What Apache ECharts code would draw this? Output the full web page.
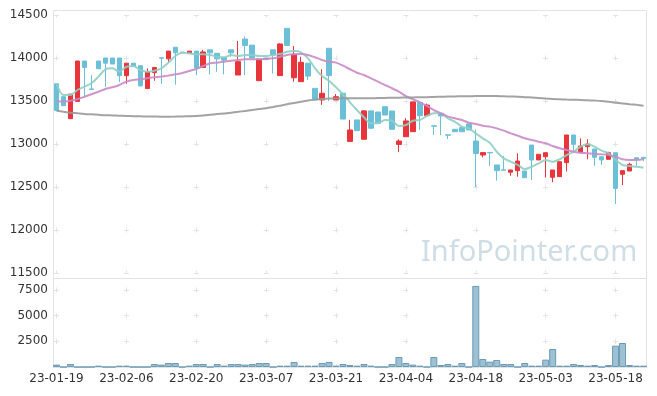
<!DOCTYPE html>
<html><head><meta charset="utf-8">
<script src="https://cdn.jsdelivr.net/npm/echarts@6/dist/echarts.min.js"></script>
<style>html,body{margin:0;padding:0;background:#fff}#c{width:657px;height:396px}</style>
</head><body><div id="c"></div>
<script>
const dates = ['23-01-19','23-01-20','23-01-25','23-01-26','23-01-27','23-01-30','23-01-31','23-02-01','23-02-02','23-02-03','23-02-06','23-02-07','23-02-08','23-02-09','23-02-10','23-02-13','23-02-14','23-02-15','23-02-16','23-02-17','23-02-20','23-02-21','23-02-22','23-02-23','23-02-24','23-02-27','23-02-28','23-03-02','23-03-03','23-03-06','23-03-07','23-03-08','23-03-09','23-03-10','23-03-13','23-03-14','23-03-15','23-03-16','23-03-17','23-03-20','23-03-21','23-03-22','23-03-23','23-03-24','23-03-27','23-03-28','23-03-29','23-03-30','23-03-31','23-04-03','23-04-04','23-04-05','23-04-06','23-04-07','23-04-10','23-04-11','23-04-12','23-04-13','23-04-14','23-04-17','23-04-18','23-04-19','23-04-20','23-04-21','23-04-24','23-04-25','23-04-26','23-04-27','23-04-28','23-05-02','23-05-03','23-05-04','23-05-08','23-05-09','23-05-10','23-05-11','23-05-12','23-05-15','23-05-16','23-05-17','23-05-18','23-05-19','23-05-22','23-05-23','23-05-24'];
const openP  = [13700,13550,13295,13495,13965,13640,13965,14000,14000,14000,13795,13940,13910,13645,13830,14003,13990,14125,14068,14055,14080,13890,14095,14055,14005,14095,13802,14220,14150,13736,14000,14095,13795,14345,13770,13725,13940,13647,13512,14113,13512,13590,13030,13280,13055,13385,13372,13434,13384,12995,13085,13143,13485,13330,13212,13357,13107,13171,13190,13233,13035,12872,12902,12756,12700,12672,12690,12686,12988,12814,12852,12613,12620,12783,13105,12900,12970,12942,12852,12822,12899,12648,12686,12841,12845];
const closeP = [13390,13445,13580,13965,13890,13635,13875,13940,13930,13795,13940,13900,13675,13840,13890,13998,14080,14060,14063,14080,13885,14070,14060,13990,13975,14060,13957,14145,14000,13988,13985,14035,14163,14145,14043,13950,13790,13512,13590,13795,13550,13290,13163,13155,13385,13183,13240,13337,13171,13035,13268,13490,13329,13453,13207,13326,13103,13143,13143,13163,12890,12900,12897,12690,12695,12698,12802,12608,12814,12880,12899,12698,12794,13105,12996,12977,13000,12845,12814,12899,12484,12690,12764,12822,12830];
const lowP   = [13390,13445,13290,13495,13560,13635,13875,13665,13930,13720,13700,13900,13675,13645,13735,13700,13950,13690,14063,14055,13800,13890,13810,13840,13810,14015,13802,13800,14000,13736,13985,13820,13795,14145,13725,13725,13745,13512,13455,13500,13512,13290,13030,13155,13055,13183,13240,13337,13171,12905,13085,13143,13163,13330,13105,13105,13058,13143,13143,13163,12500,12845,12745,12575,12695,12630,12620,12608,12581,12814,12610,12555,12620,12680,12905,12900,12822,12745,12756,12822,12302,12523,12686,12745,12800];
const highP  = [13700,13550,13580,13965,13965,13800,13965,14000,14000,14000,13940,13940,13910,13880,13890,14003,14080,14125,14068,14080,14080,14095,14095,14055,14005,14095,14198,14250,14150,13988,14000,14095,14170,14345,14140,14015,13940,13647,13870,14113,13580,13590,13280,13280,13395,13385,13372,13434,13384,13055,13300,13490,13485,13470,13212,13357,13107,13171,13190,13233,13170,12900,12902,12756,12860,12698,12892,12686,12988,12880,12899,12698,12794,13105,13105,13066,13055,12942,12852,12910,12899,12690,12783,12841,12845];
const volume = [230,0,290,0,0,0,130,0,0,130,130,0,0,0,290,230,390,390,0,130,290,290,0,290,130,290,290,230,290,390,390,0,130,130,490,130,130,130,390,490,130,290,195,130,290,130,0,0,290,975,390,230,130,0,975,195,290,130,390,0,7900,780,520,680,292,292,0,390,130,130,714,1753,130,130,292,195,130,195,0,195,2077,2337,195,130,130];
const ma5   = [13700,13570,13570,13628,13667,13706,13783,13868,13880,13841,13899,13907,13860,13841,13852,13880,13945,14023,14062,14054,14043,14043,14035,14015,14008,14035,14023,14035,14035,14023,14023,14035,14047,14073,14081,14066,13996,13880,13791,13736,13659,13578,13485,13395,13310,13240,13240,13279,13271,13209,13221,13271,13279,13326,13357,13357,13299,13260,13202,13182,13124,13066,13015,12910,12833,12794,12756,12709,12736,12775,12814,12794,12822,12872,12910,12969,12996,12969,12922,12892,12814,12756,12744,12736,12725];
const ma20  = [13500,13492,13504,13520,13550,13578,13608,13640,13659,13686,13725,13744,13752,13765,13775,13785,13795,13810,13825,13849,13872,13907,13938,13946,13957,13969,13977,13985,13985,13985,13988,13996,14015,14035,14043,14047,14035,14008,13977,13957,13946,13911,13869,13829,13802,13764,13725,13686,13648,13608,13558,13520,13485,13442,13395,13357,13318,13299,13279,13248,13233,13213,13202,13182,13155,13124,13097,13066,13047,13027,13008,12977,12950,12930,12910,12899,12892,12884,12880,12872,12852,12822,12814,12814,12822];
const ma120 = [13387,13375,13364,13357,13350,13345,13340,13335,13332,13329,13326,13324,13322,13320,13319,13318,13318,13319,13321,13323,13326,13332,13340,13348,13356,13364,13374,13385,13396,13406,13415,13430,13446,13462,13478,13492,13505,13516,13523,13528,13530,13531,13531,13531,13531,13532,13534,13536,13538,13539,13540,13542,13543,13545,13547,13549,13551,13553,13555,13556,13557,13558,13558,13557,13555,13552,13550,13545,13540,13534,13528,13523,13520,13517,13515,13513,13510,13505,13499,13490,13481,13472,13463,13455,13446];
const priceTicks = [11500, 14500, 500];   // min, max, step
const volumeTicks = [0, 8670, 2500];      // min, max, step

const candles = dates.map((d, i) => [openP[i], closeP[i], lowP[i], highP[i]]);

const RED = '#e8343a', BLUE = '#6bc0d8';
const GRIDC = '#e3e3e3';
const plain = v => String(v);
const labelFont = {color: '#333', fontSize: 12, fontFamily: 'DejaVu Sans'};
const catStep = 594 / dates.length * 10;

const chart = echarts.init(document.getElementById('c'), null, {renderer: 'canvas'});
chart.setOption({
  animation: false,
  backgroundColor: '#fff',
  grid: [
    {left: 53, right: 10, top: 15, height: 258},
    {left: 53, right: 10, top: 278, height: 89}
  ],
  xAxis: [
    {type: 'category', gridIndex: 0, data: dates, boundaryGap: true,
     axisLine: {show: false}, axisTick: {show: false}, axisLabel: {show: false},
     splitLine: {show: true, interval: 9, alignWithLabel: true,
       lineStyle: {color: GRIDC, width: 1, type: [5, 38], dashOffset: 2.5}}},
    {type: 'category', gridIndex: 1, data: dates, boundaryGap: true,
     axisLine: {show: true, lineStyle: {color: GRIDC}}, axisTick: {show: false},
     axisLabel: Object.assign({interval: 9, margin: 6}, labelFont),
     splitLine: {show: true, interval: 9, alignWithLabel: true,
       lineStyle: {color: GRIDC, width: 1, type: [5, 20.66], dashOffset: 16.16}}}
  ],
  yAxis: [
    {type: 'value', gridIndex: 0, min: priceTicks[0], max: priceTicks[1], interval: priceTicks[2],
     axisLine: {show: true, lineStyle: {color: GRIDC}}, axisTick: {show: false},
     axisLabel: Object.assign({margin: 5, formatter: plain}, labelFont),
     splitLine: {show: true, lineStyle: {color: GRIDC, width: 1, type: [5, catStep - 5], dashOffset: catStep - 1}}},
    {type: 'value', gridIndex: 1, min: volumeTicks[0], max: volumeTicks[1], interval: volumeTicks[2],
     axisLine: {show: true, lineStyle: {color: GRIDC}}, axisTick: {show: false},
     axisLabel: Object.assign({margin: 5, showMinLabel: false, showMaxLabel: false, formatter: plain}, labelFont),
     splitLine: {show: true, lineStyle: {color: GRIDC, width: 1, type: [5, catStep - 5], dashOffset: catStep - 1}}}
  ],
  graphic: [
    {type: 'rect', z: -1, silent: true, shape: {x: 53.5, y: 10.5, width: 593, height: 357},
     style: {fill: 'none', stroke: GRIDC, lineWidth: 1}},
    {type: 'line', z: -1, silent: true, shape: {x1: 53.5, y1: 278.5, x2: 646.5, y2: 278.5},
     style: {stroke: GRIDC, lineWidth: 1}},
    {type: 'text', z: 0, silent: true, left: 421, top: 238,
     style: {text: 'InfoPointer.com', fill: '#cfdde7', fontSize: 29, fontFamily: 'Noto Sans'}}
  ],
  series: [
    {type: 'candlestick', xAxisIndex: 0, yAxisIndex: 0, data: candles, barWidth: 5,
     itemStyle: {color: RED, color0: BLUE, borderColor: RED, borderColor0: BLUE, borderWidth: 1}},
    {type: 'line', xAxisIndex: 0, yAxisIndex: 0, data: ma5, showSymbol: false, smooth: 0.3,
     lineStyle: {color: '#8fcfc3', width: 2, opacity: 0.9}},
    {type: 'line', xAxisIndex: 0, yAxisIndex: 0, data: ma20, showSymbol: false, smooth: 0.3,
     lineStyle: {color: '#c98bc6', width: 2, opacity: 0.9}},
    {type: 'line', xAxisIndex: 0, yAxisIndex: 0, data: ma120, showSymbol: false, smooth: 0.3,
     lineStyle: {color: '#999999', width: 2, opacity: 0.9}},
    {type: 'bar', xAxisIndex: 1, yAxisIndex: 1, data: volume, barCategoryGap: '0%',
     itemStyle: {color: '#9dc1d3', borderColor: '#6a9bb6', borderWidth: 1}}
  ]
});
</script></body></html>
